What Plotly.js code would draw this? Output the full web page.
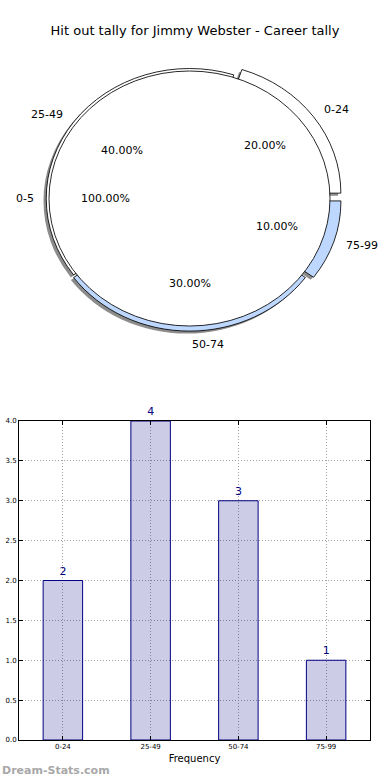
<!DOCTYPE html>
<html>
<head>
<meta charset="utf-8">
<script src="https://cdn.plot.ly/plotly-3.0.1.min.js"></script>
<style>
  html, body { margin: 0; padding: 0; background: #fff; }
  #chart { width: 390px; height: 780px; }
</style>
</head>
<body>
<div id="chart"></div>
<script>
// ---- data ----
const ringLabels = ['0-24', '25-49', '50-74', '75-99'];
const ringValues = [2, 4, 3, 1];
const ringPull = [0.07, 0, 0.02, 0.06];
const ringColors = ['#ffffff', '#ffffff', '#bdd7fe', '#bdd7fe'];

const coreLabels = ['0-5'];
const coreValues = [1];

const barCategories = ['0-24', '25-49', '50-74', '75-99'];
const barCounts = [2, 4, 3, 1];
const yTicks = [0, 0.5, 1, 1.5, 2, 2.5, 3, 3.5, 4];

// ---- geometry helpers (page pixels) ----
const W = 390, H = 780;
const cx = 189.5, cy = 198.5;       // pie centre
const stretchX = 1.102;             // ellipse aspect of the reference
const rInner = 127.5;               // inner pie radius (pre-stretch)
const rOuter = 130;                 // outer pie radius (pre-stretch)
function domainFor(r, pull, dx, dy) {
  const half = r * (1 + pull);
  const x0 = cx + (dx || 0), y0 = cy + (dy || 0);
  return {
    x: [(x0 - half) / W, (x0 + half) / W],
    y: [1 - (y0 + half) / H, 1 - (y0 - half) / H]
  };
}
const maxPull = Math.max(...ringPull);
const ringTotal = ringValues.reduce((a, b) => a + b, 0);
// Plotly puts the first slice clockwise of `rotation` when counterclockwise;
// this makes slice 1 start at 3 o'clock and run counterclockwise.
const ringRotation = 90 - 360 * ringValues[0] / ringTotal;
const font = 'DejaVu Sans, Verdana, sans-serif';

const traces = [
  { // shadow
    type: 'pie', values: ringValues, labels: ringLabels, sort: false,
    direction: 'counterclockwise', rotation: ringRotation, pull: ringPull,
    domain: domainFor(rOuter, maxPull, -2.5, 2.5),
    marker: { colors: ringValues.map(() => 'rgba(0,0,0,0.45)'), line: { width: 0 } },
    textinfo: 'none', hoverinfo: 'skip', showlegend: false
  },
  { // outer ring
    type: 'pie', values: ringValues, labels: ringLabels, sort: false,
    direction: 'counterclockwise', rotation: ringRotation, pull: ringPull,
    domain: domainFor(rOuter, maxPull),
    marker: { colors: ringColors, line: { color: '#000', width: 0.8 } },
    textinfo: 'none', hoverinfo: 'skip', showlegend: false
  },
  { // inner pie
    type: 'pie', values: coreValues, labels: coreLabels, sort: false,
    direction: 'counterclockwise', rotation: 90,
    domain: domainFor(rInner, 0),
    marker: { colors: ['#ffffff'], line: { color: '#000', width: 0.8 } },
    textinfo: 'none', hoverinfo: 'skip', showlegend: false
  },
  { // bars
    type: 'bar', x: barCategories, y: barCounts, width: 0.45,
    marker: { color: 'rgba(0,0,128,0.2)', line: { color: '#000080', width: 1 } },
    text: barCounts.map(String), textposition: 'outside', cliponaxis: false,
    textfont: { color: '#000080', size: 11, family: font },
    hoverinfo: 'skip', showlegend: false, xaxis: 'x', yaxis: 'y'
  }
];

// ---- pie text annotations (label outside, percent inside) ----
const annotations = [];
function addPieTexts(labels, values, pulls) {
  const total = values.reduce((a, b) => a + b, 0);
  let cum = 0;
  labels.forEach((lab, i) => {
    const frac = values[i] / total;
    const th = 2 * Math.PI * (cum + frac / 2);
    cum += frac;
    const c = Math.cos(th), s = Math.sin(th);
    const p = pulls[i] || 0;
    const ox = p * 140 * c, oy = p * 128 * s;
    const lx = cx + ox + 154 * c, ly = cy - oy - 143 * s;
    const px = cx + ox + 84 * c, py = cy - oy - 82 * s;
    annotations.push({
      xref: 'paper', yref: 'paper', x: lx / W, y: 1 - ly / H,
      xanchor: c >= -1e-9 ? 'left' : 'right', yanchor: 'middle',
      text: lab, showarrow: false, font: { family: font, size: 11, color: '#000' }
    });
    annotations.push({
      xref: 'paper', yref: 'paper', x: px / W, y: 1 - py / H,
      xanchor: 'center', yanchor: 'middle',
      text: (frac * 100).toFixed(2) + '%', showarrow: false,
      font: { family: font, size: 11, color: '#000' }
    });
  });
}
addPieTexts(ringLabels, ringValues, ringPull);
addPieTexts(coreLabels, coreValues, [0]);

annotations.push({
  xref: 'paper', yref: 'paper', x: 0, y: 1 - 770 / H, xanchor: 'left', yanchor: 'middle',
  text: '<b>Dream-Stats.com</b>', showarrow: false,
  font: { family: font, size: 11, color: '#a8a8a8' }
});

const gridDash = '1px,2px';
const layout = {
  width: W, height: H,
  margin: { l: 0, r: 0, t: 0, b: 0 },
  paper_bgcolor: '#fff', plot_bgcolor: '#fff',
  font: { family: font, color: '#000' },
  title: {
    text: 'Hit out tally for Jimmy Webster - Career tally',
    font: { family: font, size: 13, color: '#000' },
    x: 0.5, xanchor: 'center', y: 1 - 30 / H, yanchor: 'middle'
  },
  xaxis: {
    domain: [19 / W, 370 / W], range: [-0.5, 3.5],
    type: 'category', categoryarray: barCategories,
    showline: true, linecolor: '#000', linewidth: 1, mirror: 'ticks',
    ticks: 'inside', ticklen: 4, tickcolor: '#000',
    showgrid: true, gridcolor: '#a0a0a0', griddash: gridDash, gridwidth: 1,
    tickfont: { family: font, size: 7, color: '#000' },
    title: { text: 'Frequency', font: { family: font, size: 10, color: '#000' }, standoff: 4 },
    zeroline: false, fixedrange: true
  },
  yaxis: {
    domain: [40 / H, 359 / H], range: [0, 4],
    tickvals: yTicks, tickformat: '.1f',
    showline: true, linecolor: '#000', linewidth: 1, mirror: 'ticks',
    ticks: 'inside', ticklen: 4, tickcolor: '#000',
    showgrid: true, gridcolor: '#a0a0a0', griddash: gridDash, gridwidth: 1,
    tickfont: { family: font, size: 7, color: '#000' },
    zeroline: false, fixedrange: true
  },
  annotations: annotations,
  bargap: 0
};

Plotly.newPlot('chart', traces, layout, { displayModeBar: false, staticPlot: true }).then(() => {
  const g = document.querySelector('.pielayer');
  if (g) g.setAttribute('transform', `translate(${cx},0) scale(${stretchX},1) translate(${-cx},0)`);
});
</script>
</body>
</html>
